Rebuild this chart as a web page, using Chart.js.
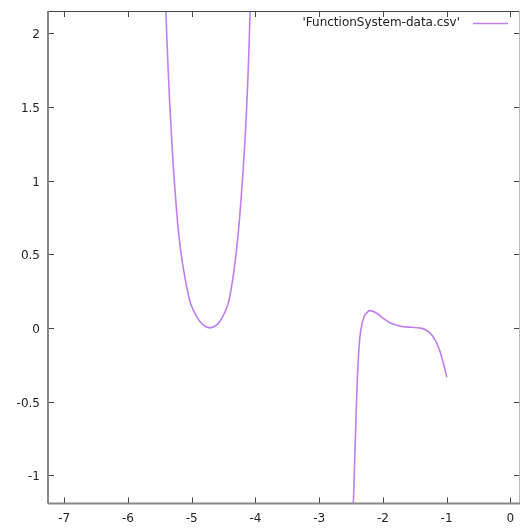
<!DOCTYPE html>
<html>
<head>
<meta charset="utf-8">
<script src="https://cdn.jsdelivr.net/npm/chart.js@4/dist/chart.umd.min.js"></script>
<style>
  body { margin: 0; background: #fff; }
  #wrap { width: 521px; height: 528px; }
</style>
</head>
<body>
<div id="wrap"><canvas id="plot"></canvas></div>
<script>
// valeurs (deux branches, coupure entre les deux)
const leftX = [-5.42, -5.405, -5.369, -5.322, -5.262, -5.174, -5.033, -4.9215, -4.821, -4.713,
               -4.606, -4.513, -4.413, -4.297, -4.215, -4.155, -4.113, -4.083, -4.07];
const leftY = [2.35, 2.151, 1.751, 1.343, 0.936, 0.529, 0.189, 0.076, 0.020, 0.0,
               0.020, 0.076, 0.189, 0.529, 0.936, 1.343, 1.751, 2.151, 2.33];
const rightX = [-2.47, -2.463, -2.435, -2.407, -2.377, -2.346, -2.295, -2.24, -2.19, -2.096, -1.992, -1.887,
                -1.782, -1.678, -1.546, -1.416, -1.322, -1.232, -1.154, -1.102, -1.05, -0.997];
const rightY = [-1.3, -1.195, -0.806, -0.422, -0.15, -0.015, 0.076, 0.109, 0.117, 0.099, 0.065, 0.035,
                0.018, 0.008, 0.004, -0.001, -0.014, -0.048, -0.105, -0.162, -0.24, -0.335];

const xTicks = [-7, -6, -5, -4, -3, -2, -1, 0];
const yTicks = [-1, -0.5, 0, 0.5, 1, 1.5, 2];
const seriesName = "'FunctionSystem-data.csv'";

const lineColor = '#c07ef2';

// points de la courbe, null pour la coupure
const points = leftX.map((x, i) => ({ x, y: leftY[i] }))
    .concat([{ x: -3.3, y: null }])
    .concat(rightX.map((x, i) => ({ x, y: rightY[i] })));

// cadre + graduations vers l'intérieur, à la gnuplot
const framePlugin = {
    id: 'frame',
    afterDatasetsDraw(chart) {
        const { ctx, chartArea: a, scales } = chart;
        ctx.save();
        ctx.strokeStyle = '#444';
        ctx.lineWidth = 1;
        ctx.beginPath();
        xTicks.forEach(v => {
            const px = Math.round(scales.x.getPixelForValue(v)) + 0.5;
            ctx.moveTo(px, a.bottom); ctx.lineTo(px, a.bottom - 6);
            ctx.moveTo(px, a.top); ctx.lineTo(px, a.top + 6);
        });
        yTicks.forEach(v => {
            const py = Math.round(scales.y.getPixelForValue(v)) + 0.5;
            ctx.moveTo(a.left, py); ctx.lineTo(a.left + 6, py);
            ctx.moveTo(a.right, py); ctx.lineTo(a.right - 6, py);
        });
        ctx.stroke();

        // bords
        ctx.strokeStyle = '#444';
        ctx.beginPath();
        ctx.moveTo(a.left, a.top + 0.5); ctx.lineTo(a.right, a.top + 0.5);
        ctx.stroke();
        ctx.strokeStyle = '#bbb';
        ctx.beginPath();
        ctx.moveTo(a.right - 0.5, a.top); ctx.lineTo(a.right - 0.5, a.bottom);
        ctx.stroke();
        ctx.strokeStyle = '#888';
        ctx.lineWidth = 2;
        ctx.beginPath();
        ctx.moveTo(a.left, a.top); ctx.lineTo(a.left, a.bottom);
        ctx.moveTo(a.left, a.bottom); ctx.lineTo(a.right, a.bottom);
        ctx.stroke();

        // légende en haut à droite : texte puis trait
        ctx.font = '12px "DejaVu Sans"';
        ctx.fillStyle = '#222';
        ctx.textAlign = 'right';
        ctx.textBaseline = 'middle';
        ctx.fillText(seriesName, 460, 23);
        ctx.strokeStyle = lineColor;
        ctx.lineWidth = 1.6;
        ctx.beginPath();
        ctx.moveTo(473, 23.5); ctx.lineTo(508, 23.5);
        ctx.stroke();
        ctx.restore();
    }
};

new Chart(document.getElementById('plot'), {
    type: 'line',
    data: {
        datasets: [{
            label: seriesName,
            data: points,
            borderColor: lineColor,
            borderWidth: 1.6,
            pointRadius: 0,
            tension: 0.4,
            spanGaps: false,
            clip: 0
        }]
    },
    options: {
        responsive: true,
        maintainAspectRatio: false,
        animation: false,
        layout: { padding: { left: 0, top: 11, right: 1, bottom: 0 } },
        plugins: { legend: { display: false }, tooltip: { enabled: false } },
        scales: {
            x: {
                type: 'linear',
                min: -7.255,
                max: 0.152,
                afterFit: s => { s.height = 24.5; },
                afterBuildTicks: s => { s.ticks = xTicks.map(v => ({ value: v })); },
                grid: { display: false },
                border: { display: false },
                ticks: { color: '#222', font: { family: 'DejaVu Sans', size: 12 }, padding: 0, maxRotation: 0,
                         callback: v => String(v) }
            },
            y: {
                type: 'linear',
                min: -1.192,
                max: 2.151,
                afterFit: s => { s.width = 48; },
                afterBuildTicks: s => { s.ticks = yTicks.map(v => ({ value: v })); },
                grid: { display: false },
                border: { display: false },
                ticks: { color: '#222', font: { family: 'DejaVu Sans', size: 12 }, padding: 0, labelOffset: 2,
                         callback: v => String(v) }
            }
        }
    },
    plugins: [framePlugin]
});
</script>
</body>
</html>
